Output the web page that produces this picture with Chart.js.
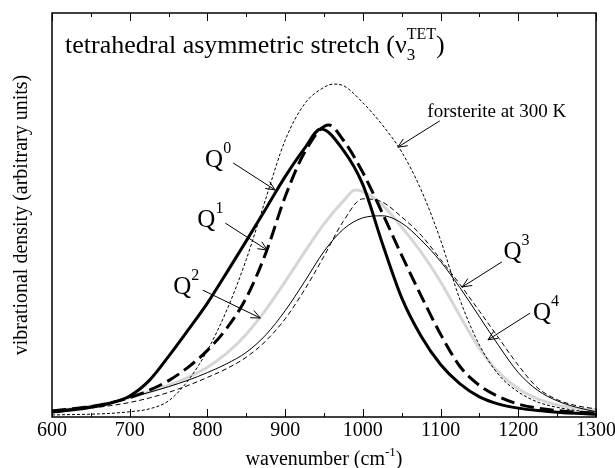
<!DOCTYPE html>
<html>
<head>
<meta charset="utf-8">
<script src="https://cdn.jsdelivr.net/npm/chart.js@4"></script>
<style>
html, body { margin: 0; padding: 0; background: #fff; }
canvas { display: block; }
</style>
</head>
<body>
<canvas id="spectrum" width="615" height="468"></canvas>
<script>
// x axis ticks (cm-1)
const majorTicks = [600, 700, 800, 900, 1000, 1100, 1200, 1300];
const minorTicks = [650, 750, 850, 950, 1050, 1150, 1250];

// vibrational density: [wavenumber, density]
const q0 = [[600,1.2],[625,1.7],[650,2.4],[675,3.4],[700,5.2],[725,9.0],[750,15.0],[775,21.5],[800,28.2],[825,35.8],[850,43.6],[875,51.5],[900,59.5],[925,66.5],[946,71.3],[975,66.0],[1000,57.5],[1025,43.0],[1050,29.5],[1075,20.0],[1100,13.0],[1125,8.2],[1150,5.0],[1175,3.2],[1200,2.2],[1225,1.6],[1250,1.2],[1275,0.9],[1300,0.7]];
const q1 = [[600,1.5],[625,2.0],[650,2.6],[675,3.5],[700,4.8],[725,6.6],[750,9.0],[775,12.3],[800,16.5],[825,22.0],[850,29.5],[875,40.5],[900,54.5],[925,65.5],[956,72.3],[975,68.5],[1000,60.5],[1025,50.5],[1050,40.0],[1075,30.0],[1100,20.5],[1125,12.5],[1150,7.8],[1175,5.0],[1200,3.2],[1225,2.2],[1250,1.6],[1275,1.2],[1300,1.0]];
const q2 = [[600,1.5],[625,2.0],[650,2.7],[675,3.6],[700,4.8],[725,6.2],[750,7.8],[775,9.8],[800,12.3],[825,15.8],[850,20.5],[875,26.5],[900,33.5],[925,40.8],[950,47.8],[975,53.5],[990,56.2],[1000,55.8],[1025,52.5],[1050,47.0],[1075,40.8],[1100,33.5],[1125,25.0],[1150,17.0],[1175,11.0],[1200,7.0],[1225,4.5],[1250,3.0],[1275,2.2],[1300,1.7]];
const q3 = [[600,1.2],[625,1.7],[650,2.2],[675,2.8],[700,3.6],[725,4.7],[750,6.1],[775,7.8],[800,9.8],[825,12.0],[850,14.8],[875,18.8],[900,24.3],[925,31.5],[950,39.8],[975,48.5],[1000,54.0],[1025,53.2],[1050,49.5],[1075,45.0],[1100,39.0],[1125,32.8],[1150,26.2],[1175,19.5],[1200,12.8],[1225,7.2],[1250,4.3],[1275,2.8],[1300,2.0]];
const q4 = [[600,1.6],[625,2.1],[650,2.7],[675,3.6],[700,4.8],[725,6.1],[750,7.5],[775,9.1],[800,11.0],[825,13.2],[850,16.0],[875,20.3],[900,26.3],[925,33.5],[950,41.0],[975,46.5],[1000,49.3],[1025,49.8],[1050,48.0],[1075,43.8],[1100,38.5],[1125,32.0],[1150,24.8],[1175,17.6],[1200,11.0],[1225,6.6],[1250,4.0],[1275,2.4],[1300,1.3]];
const forsterite = [[600,0.5],[625,0.6],[650,0.7],[675,0.9],[700,1.3],[725,2.0],[750,4.0],[775,9.0],[800,16.5],[825,26.5],[850,39.0],[875,54.0],[900,68.5],[925,77.5],[950,81.6],[962,82.4],[975,82.0],[1000,77.8],[1025,72.3],[1050,65.6],[1075,56.2],[1100,43.8],[1125,29.0],[1150,17.8],[1175,10.4],[1200,6.2],[1225,3.7],[1250,2.4],[1275,1.6],[1300,1.0]];

// labels with arrows, in data coordinates: text anchor, arrow start, arrow tip
const qLabels = [
  { sup: '0', at: [797, 61.9], from: [833, 62.9], to: [887, 56.2] },
  { sup: '1', at: [787, 47.0], from: [823, 48.0], to: [877, 41.3] },
  { sup: '2', at: [756, 30.4], from: [794, 31.4], to: [868, 24.5] },
  { sup: '3', at: [1181, 39.1], from: [1179, 38.4], to: [1128, 32.2] },
  { sup: '4', at: [1219, 24.0], from: [1215, 25.7], to: [1161, 19.1] }
];
const forsteriteNote = { text: 'forsterite at 300 K', at: [1083, 74.3], from: [1099, 73.3], to: [1045, 66.8] };

const serif = "'Liberation Serif', 'Times New Roman', serif";

function line(label, pts, style) {
  return Object.assign({
    label: label,
    data: pts.map(([x, y]) => ({ x: x, y: y })),
    pointRadius: 0,
    fill: false,
    cubicInterpolationMode: 'monotone',
    borderColor: '#000'
  }, style);
}

// draws text pieces in a row; a piece with stack=true does not move the pen
function rich(ctx, x, y, parts, draw) {
  let cx = x, held = 0;
  for (const [text, size, dy, stack] of parts) {
    ctx.font = size + 'px ' + serif;
    if (draw) ctx.fillText(text, cx, y + dy);
    const w = ctx.measureText(text).width;
    if (stack) {
      held = Math.max(held, w);
    } else {
      cx += Math.max(w, held);
      held = 0;
    }
  }
  return cx - x;
}

function arrow(ctx, x1, y1, x2, y2) {
  const ang = Math.atan2(y2 - y1, x2 - x1);
  const head = 10, spread = 0.42;
  ctx.beginPath();
  ctx.moveTo(x1, y1);
  ctx.lineTo(x2, y2);
  ctx.moveTo(x2 - head * Math.cos(ang - spread), y2 - head * Math.sin(ang - spread));
  ctx.lineTo(x2, y2);
  ctx.lineTo(x2 - head * Math.cos(ang + spread), y2 - head * Math.sin(ang + spread));
  ctx.stroke();
}

const decorations = {
  id: 'decorations',
  afterDraw(chart) {
    const { ctx, chartArea: a, scales: { x, y } } = chart;
    const px = (p) => [x.getPixelForValue(p[0]), y.getPixelForValue(p[1])];
    ctx.save();
    ctx.strokeStyle = '#000';
    ctx.fillStyle = '#000';

    // frame
    ctx.lineWidth = 1.5;
    ctx.strokeRect(a.left, a.top, a.right - a.left, a.bottom - a.top);

    // inward ticks, bottom and top
    ctx.lineWidth = 1;
    ctx.beginPath();
    for (const [list, len] of [[majorTicks, 8], [minorTicks, 4]]) {
      for (const w of list) {
        const tx = Math.round(x.getPixelForValue(w)) + 0.5;
        ctx.moveTo(tx, a.bottom); ctx.lineTo(tx, a.bottom - len);
        ctx.moveTo(tx, a.top); ctx.lineTo(tx, a.top + len);
      }
    }
    ctx.stroke();

    ctx.textBaseline = 'alphabetic';
    ctx.textAlign = 'left';

    // title inside the plot
    rich(ctx, a.left + 13, a.top + 40, [
      ['tetrahedral asymmetric stretch (\u03bd', 26, 0],
      ['3', 17, 7, true],
      ['TET', 16, -14],
      [')', 26, 0]
    ], true);

    // Q labels and arrows
    ctx.lineWidth = 1;
    for (const q of qLabels) {
      const [lx, ly] = px(q.at);
      rich(ctx, lx, ly, [['Q', 25, 0], [q.sup, 16, -14]], true);
      const [ax, ay] = px(q.from);
      const [bx, by] = px(q.to);
      arrow(ctx, ax, ay, bx, by);
    }
    {
      const [lx, ly] = px(forsteriteNote.at);
      ctx.font = '19px ' + serif;
      ctx.fillText(forsteriteNote.text, lx, ly);
      const [ax, ay] = px(forsteriteNote.from);
      const [bx, by] = px(forsteriteNote.to);
      arrow(ctx, ax, ay, bx, by);
    }

    // x axis title
    const xt = [['wavenumber (cm', 20, 0], ['-1', 13, -9], [')', 20, 0]];
    const wx = rich(ctx, 0, 0, xt, false);
    rich(ctx, (a.left + a.right) / 2 - wx / 2, 465, xt, true);

    // y axis title
    ctx.save();
    ctx.translate(22, (a.top + a.bottom) / 2);
    ctx.rotate(-Math.PI / 2);
    ctx.font = '20px ' + serif;
    ctx.textAlign = 'center';
    ctx.textBaseline = 'middle';
    ctx.fillText('vibrational density (arbitrary units)', 0, 0);
    ctx.restore();

    ctx.restore();
  }
};

new Chart(document.getElementById('spectrum').getContext('2d'), {
  type: 'line',
  data: {
    datasets: [
      line('Q0', q0, { borderWidth: 3 }),
      line('Q1', q1, { borderWidth: 3, borderDash: [14, 6] }),
      line('Q3', q3, { borderWidth: 1, borderDash: [5, 3] }),
      line('Q4', q4, { borderWidth: 1 }),
      line('forsterite at 300 K', forsterite, { borderWidth: 1, borderDash: [3, 2] }),
      line('Q2', q2, { borderWidth: 3, borderColor: '#d6d6d6' })
    ]
  },
  options: {
    responsive: false,
    animation: false,
    layout: { padding: { top: 13, right: 19, left: 0, bottom: 0 } },
    plugins: { legend: { display: false }, tooltip: { enabled: false } },
    scales: {
      x: {
        type: 'linear', min: 600, max: 1300,
        grid: { display: false, drawTicks: false }, border: { display: false },
        ticks: {
          stepSize: 100, autoSkip: false, maxRotation: 0, padding: 2, color: '#000',
          font: { family: serif, size: 20 },
          callback: (v) => String(v)
        },
        afterFit(s) { s.height = 51; s.paddingLeft = 0; s.paddingRight = 0; }
      },
      y: {
        min: 0, max: 100,
        grid: { display: false, drawTicks: false }, border: { display: false },
        ticks: { display: false },
        afterFit(s) { s.width = 52; s.paddingTop = 0; s.paddingBottom = 0; }
      }
    }
  },
  plugins: [decorations]
});
</script>
</body>
</html>
